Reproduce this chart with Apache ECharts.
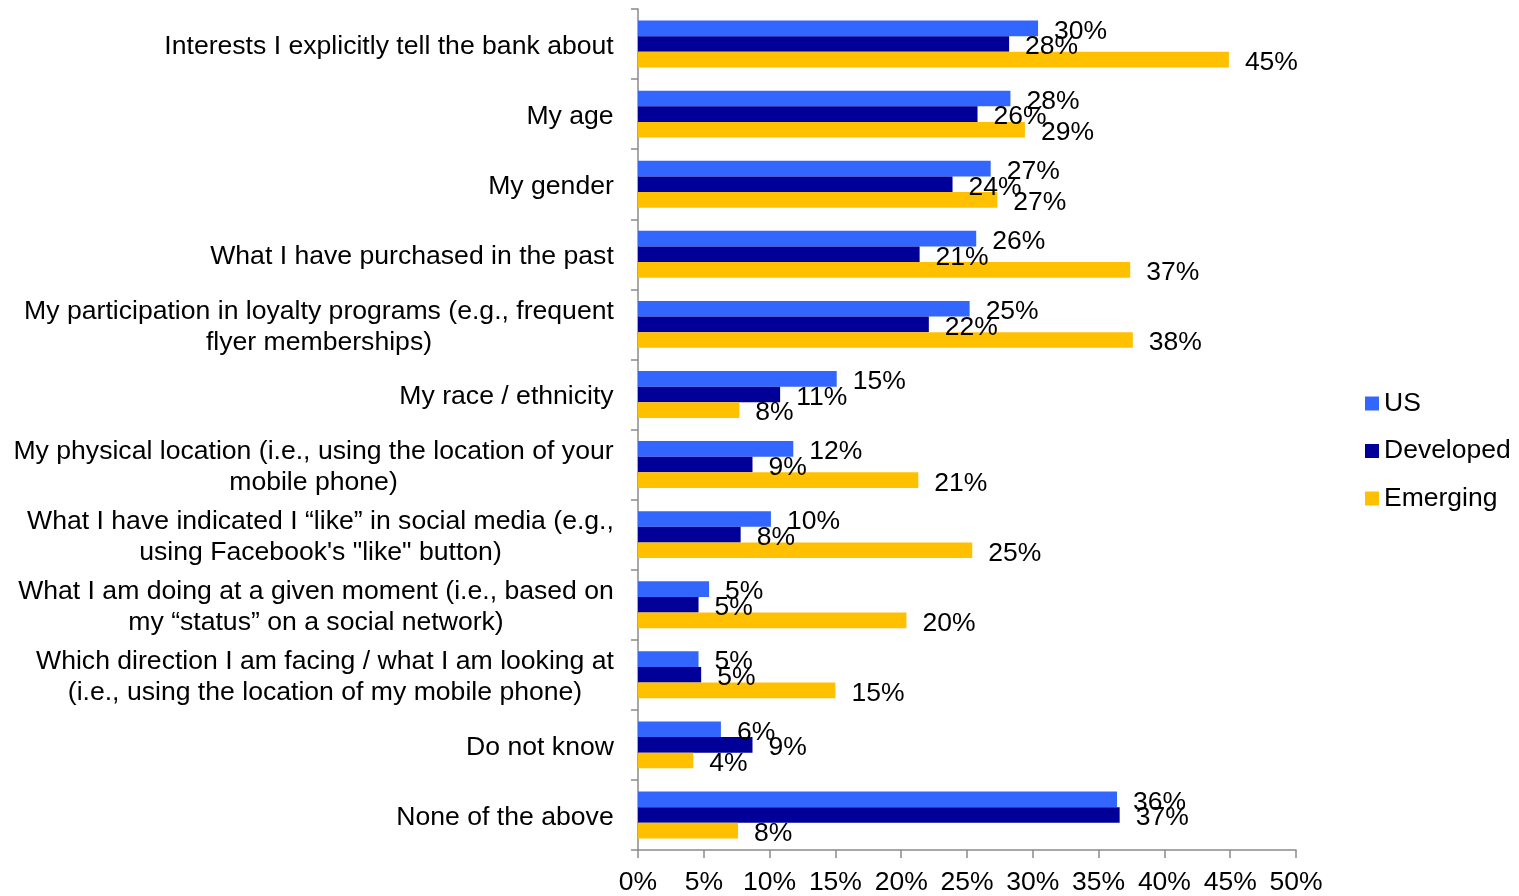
<!DOCTYPE html>
<html>
<head>
<meta charset="utf-8">
<title>Information used for personalised offers</title>
<script src="https://cdn.jsdelivr.net/npm/echarts@6/dist/echarts.min.js"></script>
<style>
  html, body { margin: 0; padding: 0; background: #ffffff; }
  #chart { width: 1519px; height: 896px; }
</style>
</head>
<body>
<div id="chart"></div>
<script>
// Survey answers, top to bottom
const categories = [
  "Interests I explicitly tell the bank about",
  "My age",
  "My gender",
  "What I have purchased in the past",
  "My participation in loyalty programs (e.g., frequent\nflyer memberships)",
  "My race / ethnicity",
  "My physical location (i.e., using the location of your\nmobile phone)",
  "What I have indicated I \u201clike\u201d in social media (e.g.,\nusing Facebook's \"like\" button)",
  "What I am doing at a given moment (i.e., based on\nmy \u201cstatus\u201d on a social network)",
  "Which direction I am facing / what I am looking at\n(i.e., using the location of my mobile phone)",
  "Do not know",
  "None of the above"
];

// Share of respondents (%)
const usValues        = [30.4, 28.3, 26.8, 25.7, 25.2, 15.1, 11.8, 10.1, 5.4, 4.6, 6.3, 36.4];
const developedValues = [28.2, 25.8, 23.9, 21.4, 22.1, 10.8, 8.7, 7.8, 4.6, 4.8, 8.7, 36.6];
const emergingValues  = [44.9, 29.4, 27.3, 37.4, 37.6, 7.7, 21.3, 25.4, 20.4, 15.0, 4.2, 7.6];

const seriesNames = ["US", "Developed", "Emerging"];

// Percentage axis ticks
const xMin = 0;
const xMax = 50;
const xStep = 5;

const FONT = "'Liberation Sans', Arial, sans-serif";
const CAT_SIZE = 26.6;
const CAT_LINE = 31;
const colors = ["#3366FF", "#000099", "#FFC000"];
const axisGray = "#8a8a8a";

// Two-line category labels: lines are centred on each other, block sits right-aligned
const measureCtx = document.createElement("canvas").getContext("2d");
measureCtx.font = CAT_SIZE + "px " + FONT;
const catRich = {};
categories.forEach((c, i) => {
  const lines = c.split("\n");
  const w = Math.ceil(Math.max(...lines.map(l => measureCtx.measureText(l).width)));
  catRich["c" + i] = {
    width: w,
    align: "center",
    fontFamily: FONT,
    fontSize: CAT_SIZE,
    lineHeight: CAT_LINE,
    color: "#000000"
  };
});

function barSeries(name, data, color) {
  return {
    name: name,
    type: "bar",
    data: data,
    barGap: "0%",
    barCategoryGap: "33%",
    itemStyle: { color: color },
    label: {
      show: true,
      position: "right",
      distance: 15,
      offset: [1, 3],
      color: "#000000",
      fontFamily: FONT,
      fontSize: 26.5,
      formatter: p => Math.round(p.value) + "%"
    }
  };
}

const chart = echarts.init(document.getElementById("chart"), null, { renderer: "canvas" });

chart.setOption({
  animation: false,
  backgroundColor: "#ffffff",
  textStyle: { fontFamily: FONT },
  grid: { left: 638, right: 223, top: 9, bottom: 44, containLabel: false },
  legend: {
    orient: "vertical",
    left: 1365,
    top: 390,
    padding: 0,
    itemWidth: 14,
    itemHeight: 14,
    itemGap: 20.5,
    icon: "rect",
    data: seriesNames,
    textStyle: { fontFamily: FONT, fontSize: 26.5, color: "#000000", lineHeight: 25 }
  },
  xAxis: {
    type: "value",
    min: xMin,
    max: xMax,
    interval: xStep,
    axisLine: { show: true, lineStyle: { color: axisGray, width: 1.5 } },
    axisTick: { show: true, length: 8, lineStyle: { color: axisGray, width: 1.5 } },
    splitLine: { show: false },
    axisLabel: {
      margin: 19,
      color: "#000000",
      fontFamily: FONT,
      fontSize: 26.5,
      formatter: v => v + "%"
    }
  },
  yAxis: {
    type: "category",
    inverse: true,
    data: categories,
    axisLine: { show: true, lineStyle: { color: axisGray, width: 1.5 } },
    axisTick: { show: true, length: 7, lineStyle: { color: axisGray, width: 1.5 } },
    axisLabel: {
      margin: 24,
      padding: [5, 0, 0, 0],
      align: "right",
      rich: catRich,
      formatter: (value, index) =>
        value.split("\n").map(l => "{c" + index + "|" + l + "}").join("\n")
    }
  },
  series: [
    barSeries(seriesNames[0], usValues, colors[0]),
    barSeries(seriesNames[1], developedValues, colors[1]),
    barSeries(seriesNames[2], emergingValues, colors[2])
  ]
});
</script>
</body>
</html>
